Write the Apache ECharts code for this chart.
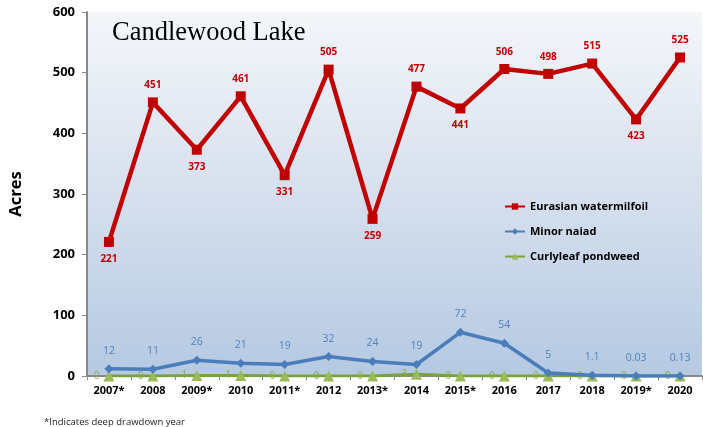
<!DOCTYPE html>
<html><head><meta charset="utf-8">
<script src="https://cdn.jsdelivr.net/npm/echarts@6/dist/echarts.min.js"></script>
<style>html,body{margin:0;padding:0;background:#fff}#c{width:703px;height:427px}</style>
</head><body><div id="c"></div>
<script>
var years = ['2007*','2008','2009*','2010','2011*','2012','2013*','2014','2015*','2016','2017','2018','2019*','2020'];
var watermilfoil = [221,451,373,461,331,505,259,477,441,506,498,515,423,525];
var watermilfoilLabelPos = ['bottom','top','bottom','top','bottom','top','bottom','top','bottom','top','top','top','bottom','top'];
var minorNaiad = [12,11,26,21,19,32,24,19,72,54,5,1.1,0.03,0.13];
var curlyleaf = [0,0,1,1,0,0,0,3,0,0,0,0,0,0];
var yTicks = [0,100,200,300,400,500,600];

var chart = echarts.init(document.getElementById('c'));
var font = 'Open Sans';
chart.setOption({
  animation:false,
  grid:{left:87,right:1,top:12,bottom:51,show:true,borderWidth:0,
    backgroundColor:{type:'linear',x:0,y:0,x2:0,y2:1,colorStops:[{offset:0,color:'#f4f6fa'},{offset:0.45,color:'#d9e2ef'},{offset:1,color:'#b5c9e2'}]}},
  title:[{text:'Candlewood Lake',left:107,top:15,textStyle:{fontFamily:'Liberation Serif',fontSize:26.5,fontWeight:'normal',color:'#000'}},
         {text:'*Indicates deep drawdown year',left:39,top:412,textStyle:{fontFamily:font,fontSize:9.5,fontWeight:'normal',color:'#222'}}],
  legend:{orient:'vertical',left:499,top:196,itemGap:14,itemWidth:20,itemHeight:8,
    textStyle:{fontFamily:font,fontSize:11,fontWeight:'bold',color:'#000'},
    data:['Eurasian watermilfoil','Minor naiad','Curlyleaf pondweed']},
  xAxis:{type:'category',data:years,boundaryGap:true,
    axisLine:{lineStyle:{color:'#888',width:2}},
    axisTick:{show:true,length:4,lineStyle:{color:'#888'}},
    axisLabel:{fontFamily:font,fontSize:11,fontWeight:'bold',color:'#000',margin:9}},
  yAxis:{type:'value',min:yTicks[0],max:yTicks[yTicks.length-1],interval:100,
    name:'Acres',nameLocation:'middle',nameGap:62,nameRotate:90,
    nameTextStyle:{fontFamily:font,fontSize:16.5,fontWeight:'bold',color:'#000'},
    splitLine:{show:false},
    axisLine:{show:true,lineStyle:{color:'#888',width:2}},
    axisTick:{show:true,length:5,lineStyle:{color:'#888'}},
    axisLabel:{fontFamily:font,fontSize:13,fontWeight:'bold',color:'#000',margin:12}},
  series:[
    {name:'Eurasian watermilfoil',type:'line',data:watermilfoil.map(function(v,i){return {value:v,label:{position:watermilfoilLabelPos[i]}};}),
     symbol:'rect',symbolSize:10,z:4,
     lineStyle:{color:'#c00000',width:4.5},itemStyle:{color:'#c00000'},
     label:{show:true,fontFamily:font,fontSize:10,fontWeight:'bold',color:'#c00000',distance:7}},
    {name:'Minor naiad',type:'line',data:minorNaiad,symbol:'diamond',symbolSize:9,z:3,
     lineStyle:{color:'#4a7ebb',width:3.5},itemStyle:{color:'#4a7ebb'},
     label:{show:true,position:'top',fontFamily:font,fontSize:10.5,color:'#4f81bd',distance:8}},
    {name:'Curlyleaf pondweed',type:'line',data:curlyleaf,symbol:'triangle',symbolSize:11,z:2,
     lineStyle:{color:'#77a33a',width:3},itemStyle:{color:'#9bbb59'},
     label:{show:true,position:'left',fontFamily:font,fontSize:10,color:'#86ad45',distance:4}}
  ]
});
</script></body></html>
